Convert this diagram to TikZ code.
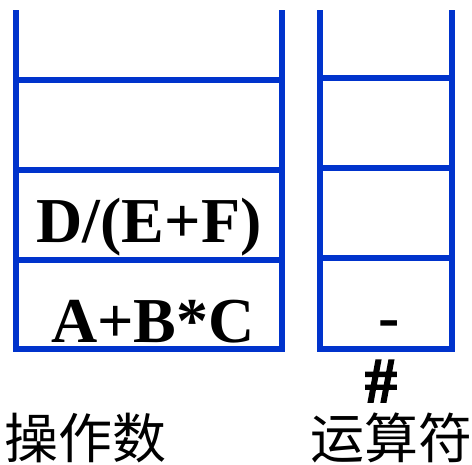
\documentclass[tikz,border=0pt]{standalone}
\usepackage{fontspec}
\setmainfont{Liberation Serif}
\newfontfamily\cjk{Noto Sans CJK SC}[BoldFont={Noto Sans CJK SC Bold}]
\newfontfamily\hashfont{Liberation Serif}[BoldFeatures={FakeBold=2.5}]
\definecolor{stackblue}{RGB}{0,51,204}
\begin{document}
\begin{tikzpicture}[x=1pt,y=-1pt,
  stackline/.style={draw=stackblue,line width=6pt,line join=miter},
  lbl/.style={anchor=base,inner sep=0pt,font=\fontsize{64}{64}\selectfont\bfseries},
  captionlbl/.style={anchor=base,inner sep=0pt,font=\fontsize{54}{54}\selectfont\cjk}]
\useasboundingbox (0,0) rectangle (472,464);
% left stack
\draw[stackline] (16,10) -- (16,349) -- (282,349) -- (282,10);
\draw[stackline] (16,80) -- (282,80);
\draw[stackline] (16,170) -- (282,170);
\draw[stackline] (16,260) -- (282,260);
% right stack
\draw[stackline] (320,10) -- (320,349) -- (452,349) -- (452,10);
\draw[stackline] (320,78) -- (452,78);
\draw[stackline] (320,168) -- (452,168);
\draw[stackline] (320,258) -- (452,258);
% contents
\node[lbl] (d) at (149,242) {D/(E+F)};
\node[lbl] (a) at (153,342) {A+B*C};
\node[lbl] (m) at (389,338) {-};
\node[lbl,font=\fontsize{64}{64}\selectfont\hashfont\bfseries] (h) at (381,402) {\#};
\node[captionlbl] (l1) at (86,458) {操作数};
\node[captionlbl] (l2) at (391,458) {运算符};
\end{tikzpicture}
\end{document}
